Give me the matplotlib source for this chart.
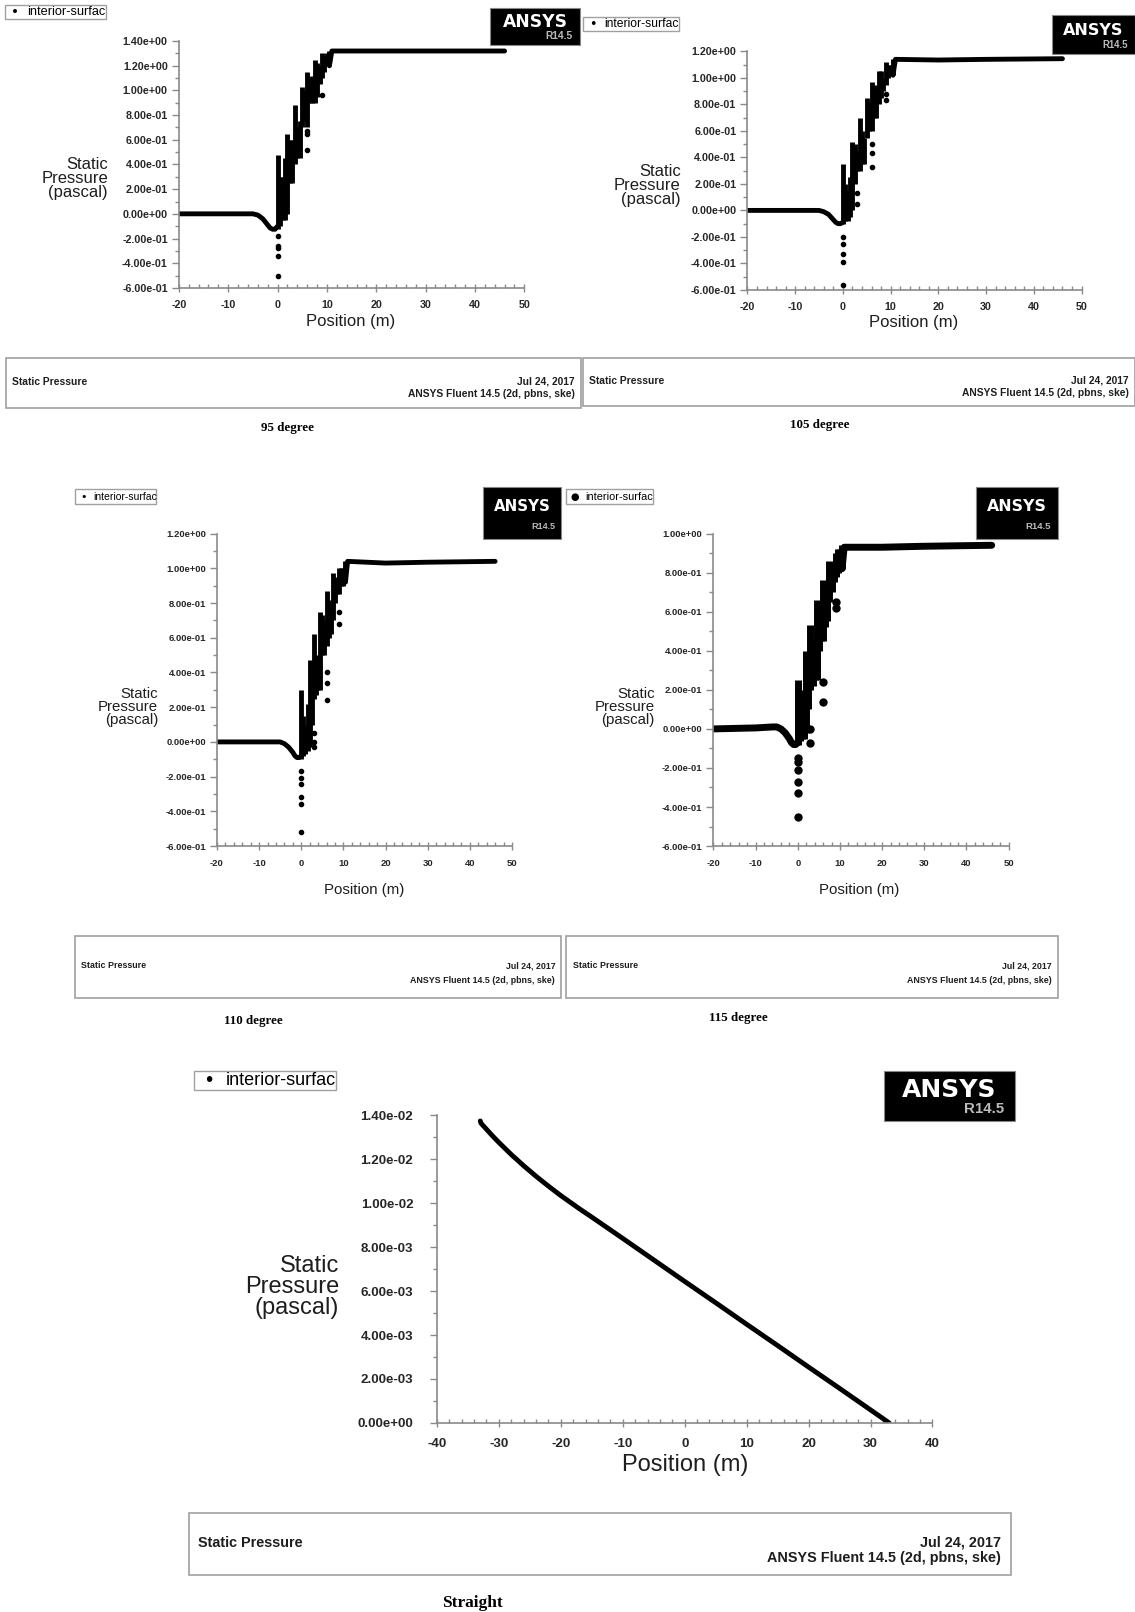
import matplotlib
matplotlib.use("Agg")
import matplotlib.pyplot as plt
from matplotlib.patches import Rectangle
from matplotlib.ticker import MultipleLocator, FuncFormatter

plt.rcParams["axes.unicode_minus"] = False

# reference is laid out in a 1104 x 1568 pixel frame
SW, SH = 1104, 1568

# -----------------------------
# data
# -----------------------------
band_x = [0, 0.5, 1, 1.5, 2, 2.5, 3, 3.5, 4, 4.5, 5, 5.5, 6, 6.5, 7, 7.5, 8, 8.5, 9, 9.5, 10, 10.5]
lead_x = [-20, -10, -6, -5, -4, -3, -2, -1.5, -1, -0.5, 0]
plateau_x = [10.5, 11, 20, 30, 46]

# 95 degree
lead_95 = [0, 0, 0, 0, -0.01, -0.04, -0.09, -0.115, -0.125, -0.125, -0.10]
plateau_95 = [1.20, 1.32, 1.32, 1.32, 1.32]
lo_95 = [-0.12, -0.10, -0.05, -0.05, 0.00, 0.25, 0.25, 0.40, 0.45, 0.45, 0.70, 0.75, 0.70, 0.90, 0.90, 0.90, 0.95, 1.05, 1.10, 1.15, 1.20, 1.20]
hi_95 = [0.48, 0.30, 0.30, 0.45, 0.65, 0.60, 0.60, 0.88, 0.70, 0.75, 1.03, 1.00, 1.15, 1.10, 1.12, 1.25, 1.22, 1.20, 1.30, 1.28, 1.30, 1.32]
out_x_95 = [0, 0, 0, 0, 0, 6, 6, 6, 9]
out_y_95 = [-0.18, -0.26, -0.28, -0.34, -0.50, 0.65, 0.67, 0.52, 0.96]

# 105 degree
lead_105 = [0, 0, 0, 0, -0.01, -0.03, -0.07, -0.09, -0.10, -0.10, -0.09]
plateau_105 = [1.02, 1.14, 1.135, 1.14, 1.145]
lo_105 = [-0.10, -0.08, -0.08, -0.05, 0.00, 0.20, 0.30, 0.30, 0.35, 0.35, 0.55, 0.60, 0.60, 0.70, 0.70, 0.80, 0.85, 0.90, 0.95, 1.00, 1.02, 1.02]
hi_105 = [0.35, 0.20, 0.15, 0.25, 0.52, 0.50, 0.45, 0.70, 0.60, 0.55, 0.85, 0.82, 0.97, 0.90, 0.95, 1.05, 1.05, 1.00, 1.12, 1.10, 1.10, 1.14]
out_x_105 = [0, 0, 0, 0, 0, 3, 3, 6, 6, 6, 9, 9]
out_y_105 = [-0.20, -0.25, -0.33, -0.39, -0.56, 0.05, 0.13, 0.33, 0.43, 0.50, 0.83, 0.88]

# 110 degree
lead_110 = [0, 0, 0, 0, -0.01, -0.03, -0.06, -0.08, -0.09, -0.09, -0.08]
plateau_110 = [0.92, 1.04, 1.03, 1.035, 1.04]
lo_110 = [-0.10, -0.08, -0.07, -0.05, -0.03, 0.10, 0.25, 0.27, 0.30, 0.30, 0.50, 0.50, 0.55, 0.60, 0.62, 0.70, 0.80, 0.85, 0.85, 0.90, 0.90, 0.92]
hi_110 = [0.30, 0.15, 0.10, 0.22, 0.47, 0.45, 0.62, 0.50, 0.45, 0.75, 0.73, 0.70, 0.87, 0.82, 0.80, 0.97, 0.95, 0.93, 1.00, 1.00, 1.00, 1.04]
out_x_110 = [0, 0, 0, 0, 0, 0, 3, 3, 3, 6, 6, 6, 9, 9]
out_y_110 = [-0.17, -0.21, -0.24, -0.32, -0.36, -0.52, 0.05, 0.00, -0.03, 0.34, 0.24, 0.40, 0.68, 0.75]

# 115 degree
lead_115 = [0, 0.005, 0.01, 0.01, 0.0, -0.02, -0.05, -0.07, -0.08, -0.08, -0.07]
plateau_115 = [0.82, 0.93, 0.93, 0.935, 0.94]
lo_115 = [-0.08, -0.06, -0.05, -0.05, -0.02, 0.10, 0.20, 0.22, 0.25, 0.25, 0.40, 0.45, 0.45, 0.52, 0.55, 0.65, 0.70, 0.75, 0.78, 0.80, 0.82, 0.82]
hi_115 = [0.25, 0.15, 0.10, 0.20, 0.40, 0.38, 0.53, 0.45, 0.40, 0.66, 0.65, 0.62, 0.76, 0.72, 0.72, 0.86, 0.85, 0.82, 0.90, 0.92, 0.92, 0.94]
out_x_115 = [0, 0, 0, 0, 0, 0, 3, 3, 6, 6, 9, 9]
out_y_115 = [-0.15, -0.17, -0.21, -0.27, -0.33, -0.45, 0.00, -0.07, 0.24, 0.14, 0.62, 0.65]

# straight pipe
straight_x = [-33, -32.9, -32, -31, -30, -28, -26, -24, -22, -20, -17, -15, -10, -5, 0, 5, 10, 15, 20, 25, 30, 33]
straight_y = [0.01375, 0.01365, 0.01337, 0.01306, 0.01277, 0.01222, 0.01171, 0.01123, 0.01078, 0.01035,
              0.00975, 0.00937, 0.00840, 0.00742, 0.00644, 0.00547, 0.00449, 0.00352, 0.00254, 0.00157,
              0.00059, 0.0]

# -----------------------------
FONT = "Liberation Sans"
SERIF = "Liberation Serif"
AXIS_GREY = "#8a8a8a"
BOX_GREY = "#a0a0a0"
TXT = "#1e1e1e"
PT_PER_PX = 1.028 / 1.389  # shown-frame pixels -> points

fig = plt.figure(figsize=(11.35, 16.12), dpi=100)
fig.patch.set_facecolor("white")


def fx(x):
    return x / SW


def fy(y):
    return 1 - y / SH


def fig_rect(x0, y0, x1, y1, **kw):
    fig.add_artist(Rectangle((fx(x0), fy(y1)), fx(x1) - fx(x0), fy(y0) - fy(y1),
                             transform=fig.transFigure, **kw))


def sci_fmt(v, pos):
    return f"{v:.2e}"


def decorate(legend, logo, footer, caption, cap_xy, ylab_xy, xlab_xy,
             label_size=11.5, small=7.2, cap_size=9.4, marker_big=False):
    # legend box
    x0, y0, x1, y1 = legend
    w = x1 - x0
    fig_rect(x0, y0, x1, y1, facecolor="white", edgecolor=BOX_GREY, lw=1)
    ym = (y0 + y1) / 2
    fig.text(fx(x0 + 0.1 * w), fy(ym), "\u25cf" if marker_big else "\u2022",
             fontsize=w * (0.085 if marker_big else 0.1), family="DejaVu Sans",
             va="center", ha="center")
    fig.text(fx(x0 + 0.22 * w), fy(ym), "interior-surfac",
             fontsize=0.77 * w / 6.05 * PT_PER_PX, family=FONT, va="center", ha="left")
    # ANSYS logo
    x0, y0, x1, y1 = logo
    w, h = x1 - x0, y1 - y0
    fig_rect(x0, y0, x1, y1, facecolor="black", edgecolor="#888888", lw=0.8)
    fig.text(fx((x0 + x1) / 2), fy(y0 + h * 0.38), "ANSYS", color="white",
             fontsize=0.142 * w, family="DejaVu Sans", weight="bold", ha="center", va="center")
    fig.text(fx(x1 - w * 0.08), fy(y0 + h * 0.76), "R14.5", color="#bbbbbb",
             fontsize=0.085 * w, family=FONT, weight="bold", ha="right", va="center")
    # footer box
    x0, y0, x1, y1 = footer
    h = y1 - y0
    pad = 6 if small < 9 else 9
    fig_rect(x0, y0, x1, y1, facecolor="white", edgecolor=BOX_GREY, lw=1.2)
    fig.text(fx(x0 + pad), fy(y0 + h * 0.48), "Static Pressure", fontsize=small,
             family=FONT, weight="bold", va="center", ha="left", color=TXT)
    fig.text(fx(x1 - pad), fy(y0 + h * 0.48), "Jul 24, 2017", fontsize=small,
             family=FONT, weight="bold", va="center", ha="right", color=TXT)
    fig.text(fx(x1 - pad), fy(y0 + h * 0.72), "ANSYS Fluent 14.5 (2d, pbns, ske)", fontsize=small,
             family=FONT, weight="bold", va="center", ha="right", color=TXT)
    # caption
    fig.text(fx(cap_xy[0]), fy(cap_xy[1]), caption, fontsize=cap_size,
             family=SERIF, weight="bold", ha="center", va="center")
    # axis labels
    fig.text(fx(ylab_xy[0]), fy(ylab_xy[1]), "Static\nPressure\n(pascal)", fontsize=label_size,
             family=FONT, ha="right", va="center", multialignment="right",
             linespacing=0.92, color=TXT)
    fig.text(fx(xlab_xy[0]), fy(xlab_xy[1]), "Position (m)", fontsize=label_size,
             family=FONT, ha="center", va="center", color=TXT)


def make_axes(box, xlim, ylim, xmajor, ymajor, ymin_step, tick_size, ypad=3, xpad=6):
    left, right, top, bottom = box
    ax = fig.add_axes([fx(left), fy(bottom), fx(right) - fx(left), fy(top) - fy(bottom)])
    ax.set_xlim(*xlim)
    ax.set_ylim(*ylim)
    ax.patch.set_alpha(0)
    for s in ["top", "right"]:
        ax.spines[s].set_visible(False)
    for s in ["left", "bottom"]:
        ax.spines[s].set_color(AXIS_GREY)
        ax.spines[s].set_linewidth(1.2)
    ax.xaxis.set_major_locator(MultipleLocator(xmajor))
    ax.xaxis.set_minor_locator(MultipleLocator(2))
    ax.yaxis.set_major_locator(MultipleLocator(ymajor))
    ax.yaxis.set_minor_locator(MultipleLocator(ymin_step))
    ax.yaxis.set_major_formatter(FuncFormatter(sci_fmt))
    ax.tick_params(axis="x", which="major", direction="inout", length=6, width=1,
                   color=AXIS_GREY, labelsize=tick_size, pad=xpad)
    ax.tick_params(axis="x", which="minor", direction="in", length=3, width=1, color=AXIS_GREY)
    ax.tick_params(axis="y", which="major", direction="out", length=5, width=1,
                   color=AXIS_GREY, labelsize=tick_size, pad=ypad)
    ax.tick_params(axis="y", which="minor", direction="out", length=3, width=1, color=AXIS_GREY)
    for lab in ax.get_xticklabels() + ax.get_yticklabels():
        lab.set_family(FONT)
        lab.set_weight("bold")
        lab.set_color("#262626")
    return ax


def draw_scatter_panel(ax, lead, lo, hi, plateau, out_x, out_y, lw=3.5, ms=3.0):
    ax.plot(lead_x, lead, color="black", lw=lw, solid_capstyle="round", solid_joinstyle="round")
    ax.vlines(band_x, lo, hi, color="black", lw=lw)
    ax.plot(plateau_x, plateau, color="black", lw=lw, solid_capstyle="round")
    ax.plot(out_x, out_y, "o", color="black", ms=ms, mec="black")


panels = [
    dict(box=(174, 510, 40, 280), ylim=(-0.6, 1.4), data=(lead_95, lo_95, hi_95, plateau_95, out_x_95, out_y_95),
         legend=(5, 5, 103, 18), logo=(477, 8, 564, 44), footer=(6, 348, 565, 397),
         caption="95 degree", cap=(280, 416), ylab=(105, 174), xlab=(341, 313),
         ts=7.7, ls=12, small=7.4, big=False),
    dict(box=(727, 1052, 50, 282), ylim=(-0.6, 1.2), data=(lead_105, lo_105, hi_105, plateau_105, out_x_105, out_y_105),
         legend=(567, 17, 660, 30), logo=(1023, 15, 1104, 53), footer=(567, 348, 1104, 395),
         caption="105 degree", cap=(797, 413), ylab=(662, 180), xlab=(889, 314),
         ts=7.7, ls=12, small=7.4, big=False),
    dict(box=(211, 498, 519, 823), ylim=(-0.6, 1.2), data=(lead_110, lo_110, hi_110, plateau_110, out_x_110, out_y_110),
         legend=(73, 476, 152, 490), logo=(470, 474, 546, 524), footer=(73, 910, 546, 971),
         caption="110 degree", cap=(246, 993), ylab=(154, 688), xlab=(354, 866),
         ts=6.8, ls=10.8, small=6.4, big=False),
    dict(box=(694, 981, 519, 823), ylim=(-0.6, 1.0), data=(lead_115, lo_115, hi_115, plateau_115, out_x_115, out_y_115),
         legend=(551, 476, 635, 490), logo=(949, 474, 1029, 524), footer=(551, 910, 1029, 971),
         caption="115 degree", cap=(718, 990), ylab=(637, 688), xlab=(836, 866),
         ts=6.8, ls=10.8, small=6.4, big=True),
]

for p in panels:
    ax = make_axes(p["box"], (-20, 50), p["ylim"], 10, 0.2, 0.1, p["ts"])
    if p["big"]:
        draw_scatter_panel(ax, *p["data"], lw=5.0, ms=5.0)
    else:
        draw_scatter_panel(ax, *p["data"])
    decorate(p["legend"], p["logo"], p["footer"], p["caption"], p["cap"], p["ylab"], p["xlab"],
             label_size=p["ls"], small=p["small"], marker_big=p["big"])

# straight pipe panel
ax5 = make_axes((425, 907, 1085, 1384), (-40, 40), (0, 0.014), 10, 0.002, 0.001, 9.6, ypad=12, xpad=8)
ax5.plot(straight_x, straight_y, color="black", lw=3.5, solid_capstyle="round", solid_joinstyle="round")
decorate((189, 1042, 327, 1060), (860, 1042, 987, 1090), (184, 1472, 983, 1532),
         "Straight", (460, 1559), (330, 1252), (666, 1425),
         label_size=17, small=10.4, cap_size=12.5)

fig.savefig("out.png", dpi=100, facecolor="white")
